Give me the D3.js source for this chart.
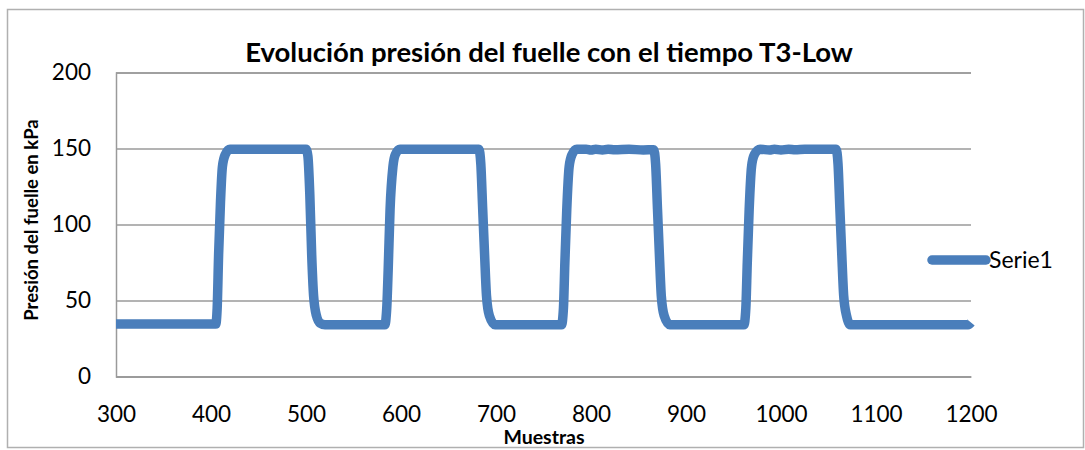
<!DOCTYPE html>
<html><head><meta charset="utf-8">
<script src="https://cdn.jsdelivr.net/npm/d3@7"></script>
<style>
html,body{margin:0;padding:0;background:#fff;}
svg{display:block;}
text{font-family:Lato,"Liberation Sans",sans-serif;fill:#000;}
</style></head>
<body>
<svg id="chart" width="1085" height="450"></svg>
<script>
// ---- data ----
const muestras = [300,340,380,405,406.5,408,410,412,415,420,460,500,502,504,506,508,511,515,520,
  560,583,585,586.5,588.5,591.5,594,599,640,682,684,686,688,690,693,699,
  740,769,771,772.5,774.5,777,780,785,795,800,805,812,818,825,840,855,866,868,870,872,874,877,883,
  920,961,963,964.5,966.5,969,972,978,988,993,1000,1008,1015,1025,1040,1058,1060,1062,1064,1066,1069,1073,
  1120,1170,1197,1200];
const presion = [34.5,34.5,34.5,34.5,45,80,115,138,146,149.5,149.5,149.5,145,120,80,53,40,35,34,
  34,34,45,70,110,138,146,149.5,149.5,149.5,140,110,80,53,40,34,
  34,34,45,75,110,138,146,149.5,149.5,149,149.5,149,149.5,149.2,149.5,149,149.2,140,110,80,53,40,34,
  34,34,45,75,110,138,146,149.5,149,149.5,149,149.5,149.2,149.5,149.5,149.5,140,110,80,53,40,34,
  34,34,34,35.5];
const xTicks = [300,400,500,600,700,800,900,1000,1100,1200];
const yTicks = [0,50,100,150,200];
const serieName = "Serie1";
const title = "Evolución presión del fuelle con el tiempo T3-Low";
const xTitle = "Muestras";
const yTitle = "Presión del fuelle en kPa";

// ---- drawing ----
const svg = d3.select("#chart");
const x = d3.scaleLinear().domain([300,1200]).range([116,971]);
const y = d3.scaleLinear().domain([0,200]).range([376.5,72.5]);
const blue = "#4a7ebb", grid = "#9a9a9a";

// outer frame
svg.append("rect").attr("x",7.5).attr("y",9.5).attr("width",1076).attr("height",438)
  .attr("fill","none").attr("stroke","#b0b0b0").attr("stroke-width",1.5);

// gridlines + y axis labels
const yAxis = d3.axisLeft(y).tickValues(yTicks).tickSize(-(971-116)).tickPadding(25);
const gy = svg.append("g").attr("transform","translate(116,0)").call(yAxis);
gy.select(".domain").attr("stroke",grid).attr("stroke-width",1.5);
gy.selectAll(".tick line").attr("stroke",grid).attr("stroke-width",1.5);
gy.selectAll(".tick text").attr("font-size",22.5).attr("font-family","Lato").attr("fill","#000");

// x axis
const xAxis = d3.axisBottom(x).tickValues(xTicks).tickSize(0).tickPadding(30).tickFormat(d3.format("d"));
const gx = svg.append("g").attr("transform","translate(0,376.5)").call(xAxis);
gx.select(".domain").attr("stroke",grid).attr("stroke-width",1.5);
gx.selectAll(".tick text").attr("font-size",22.5).attr("font-family","Lato").attr("fill","#000");

// series
const line = d3.line().x((d,i)=>x(muestras[i])).y(d=>y(d)).curve(d3.curveMonotoneX);
svg.append("path").datum(presion).attr("d",line)
  .attr("fill","none").attr("stroke",blue).attr("stroke-width",9.5)
  .attr("stroke-linejoin","round").attr("stroke-linecap","butt");

// titles
svg.append("text").attr("x",549).attr("y",62).attr("text-anchor","middle")
  .attr("font-size",27.5).attr("font-weight","bold").text(title);
svg.append("text").attr("x",544).attr("y",444).attr("text-anchor","middle")
  .attr("font-size",19.5).attr("font-weight","bold").text(xTitle);
svg.append("text").attr("transform","translate(38,220) rotate(-90)").attr("text-anchor","middle")
  .attr("font-size",18.5).attr("font-weight","bold").text(yTitle);

// legend
const lg = svg.append("g").attr("transform","translate(930,260)");
lg.append("line").attr("x1",2).attr("x2",56).attr("y1",0).attr("y2",0)
  .attr("stroke",blue).attr("stroke-width",9.5).attr("stroke-linecap","round");
lg.append("text").attr("x",59).attr("y",8).attr("font-size",23).text(serieName);
</script>
</body></html>
